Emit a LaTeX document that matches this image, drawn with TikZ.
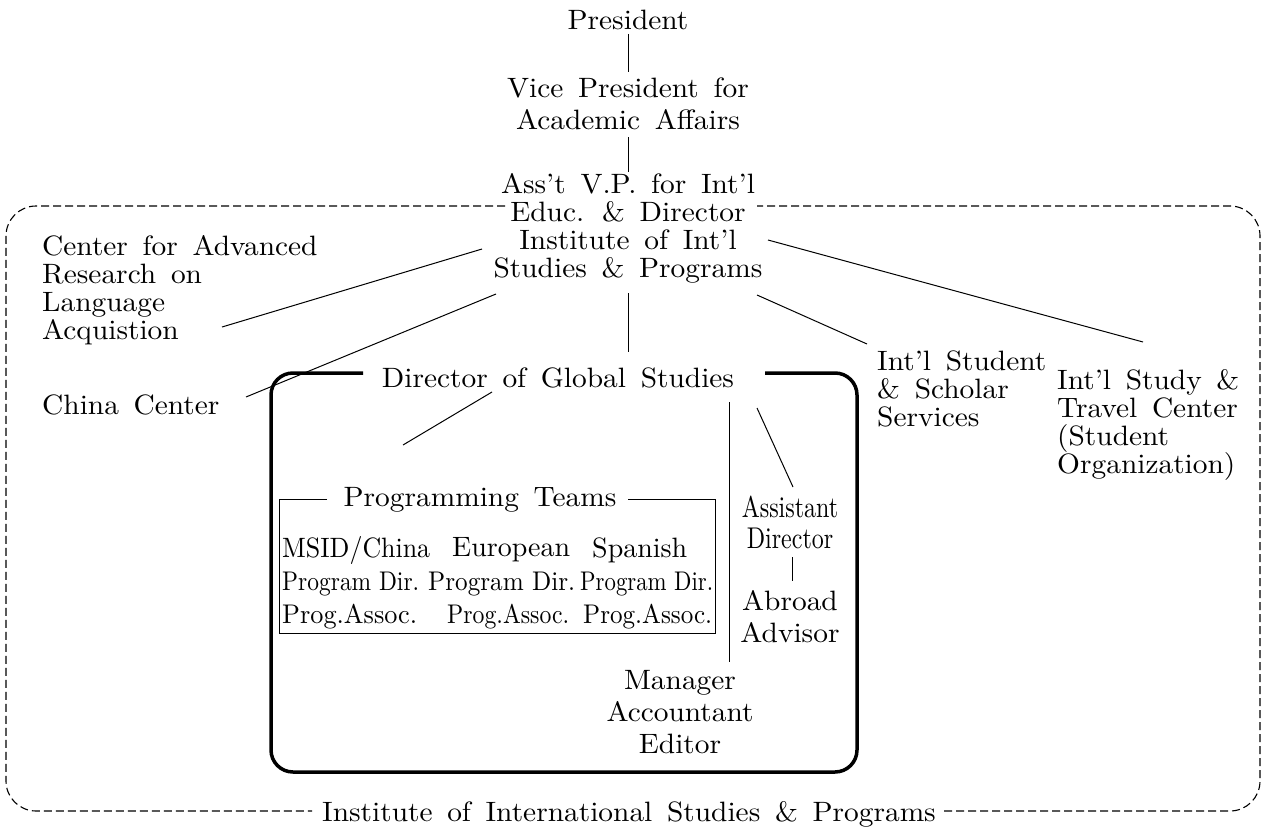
\documentclass[tikz,border=0pt]{standalone}
\usepackage{fontspec}
\usepackage{graphicx}
\setmainfont{lmroman10-regular.otf}[FakeStretch=1.05,WordSpace=1.5]
\newfontfamily\condfont{lmroman10-regular.otf}[FakeStretch=0.80]
\newfontfamily\tabfont{lmroman10-regular.otf}
\newcommand\fitw[2]{\resizebox{#1pt}{\height}{#2}}
\begin{document}
\begin{tikzpicture}[x=1pt,y=-1pt,
  txt/.style={inner sep=0pt, font=\fontsize{28}{28}\selectfont, align=center},
  wide/.style={txt, font=\fontsize{28}{32}\selectfont},
  ltxt/.style={txt, align=left, anchor=west},
  cond/.style={inner sep=0pt, align=center, font=\condfont\fontsize{30}{31}\selectfont},
  cell/.style={inner sep=0pt, anchor=west, font=\tabfont\fontsize{28}{28}\selectfont},
  cellc/.style={cell, font=\tabfont\fontsize{27}{28}\selectfont},
  conn/.style={line width=1pt},
  dashbox/.style={line width=1.1pt, dash pattern=on 8pt off 4pt, rounded corners=30pt},
  thickbox/.style={line width=3.5pt, rounded corners=22pt},
  thinbox/.style={line width=1pt}]
\useasboundingbox (0,0) rectangle (1268,832);

% text nodes
\node[txt] (pres) at (628,20) {President};
\node[wide] (vp) at (628,104) {Vice President for\\Academic Affairs};
\node[txt] (asst) at (628,228) {Ass’t V.P. for Int’l\\Educ. \& Director\\Institute of Int’l\\Studies \& Programs};
\node[ltxt] (carla) at (42,290) {Center for Advanced\\Research on\\Language\\Acquistion};
\node[ltxt] (china) at (42,405) {China Center};
\node[ltxt] (isss) at (877,389) {Int’l Student\\\& Scholar\\Services};
\node[ltxt] (istc) at (1057,425) {Int’l Study \&\\Travel Center\\(Student\\Organization)};
\node[txt] (dgs) at (558,378) {Director of Global Studies};
\node[txt] (pt) at (480,500) {Programming Teams};
\node[cond] (ad) at (790,522) {Assistant\\Director};
\node[wide] (aa) at (790,617) {Abroad\\Advisor};
\node[wide] (mae) at (680,712) {Manager\\Accountant\\Editor};
\node[txt] (iisp) at (629,814) {Institute of International Studies \& Programs};

% programming teams table
\node[cell] (c11) at (282,550) {\fitw{148}{MSID/China}};
\node[cell] (c12) at (452,550) {European};
\node[cell] (c13) at (592,550) {Spanish};
\node[cellc] (c21) at (282,584) {\fitw{137}{Program Dir.}};
\node[cellc] (c22) at (428,584) {\fitw{147}{Program Dir.}};
\node[cellc] (c23) at (580,584) {\fitw{133}{Program Dir.}};
\node[cellc] (c31) at (282,617) {\fitw{135}{Prog.Assoc.}};
\node[cellc] (c32) at (447,617) {\fitw{122}{Prog.Assoc.}};
\node[cellc] (c33) at (583,617) {\fitw{129}{Prog.Assoc.}};

% outer dashed frame (broken by the texts)
\draw[dashbox] (505,206) -- (6,206) -- (6,811) -- (312,811);
\draw[dashbox] (944,811) -- (1260,811) -- (1260,206) -- (757,206);

% global studies frame
\draw[thickbox] (363,373) -- (271,373) -- (271,772) -- (857,772) -- (857,373) -- (765,373);

% programming teams frame
\draw[thinbox] (327,499) -- (279,499) -- (279,633) -- (715,633) -- (715,499) -- (628,499);

% connector end points
\coordinate (pres-b) at (628,34);
\coordinate (vp-t) at (628,72);
\coordinate (vp-b) at (628,137);
\coordinate (asst-t) at (628,172);
\coordinate (asst-b) at (628,293);
\coordinate (dgs-t) at (628,352);
\coordinate (asst-w1) at (482,249);
\coordinate (carla-e) at (222,327);
\coordinate (asst-w2) at (496,294);
\coordinate (china-e) at (246,397);
\coordinate (asst-e2) at (757,295);
\coordinate (isss-n) at (867,344);
\coordinate (asst-e1) at (768,240);
\coordinate (istc-n) at (1143,342);
\coordinate (dgs-s) at (492,392);
\coordinate (pt-n) at (403,445);
\coordinate (dgs-v) at (729,402);
\coordinate (mae-n) at (729,662);
\coordinate (dgs-e) at (757,408);
\coordinate (ad-n) at (793,487);
\coordinate (ad-s) at (792,557);
\coordinate (aa-n) at (792,581);

\draw[conn] (pres-b) -- (vp-t);
\draw[conn] (vp-b) -- (asst-t);
\draw[conn] (asst-b) -- (dgs-t);
\draw[conn] (asst-w1) -- (carla-e);
\draw[conn] (asst-w2) -- (china-e);
\draw[conn] (asst-e2) -- (isss-n);
\draw[conn] (asst-e1) -- (istc-n);
\draw[conn] (dgs-s) -- (pt-n);
\draw[conn] (dgs-v) -- (mae-n);
\draw[conn] (dgs-e) -- (ad-n);
\draw[conn] (ad-s) -- (aa-n);
\end{tikzpicture}
\end{document}
